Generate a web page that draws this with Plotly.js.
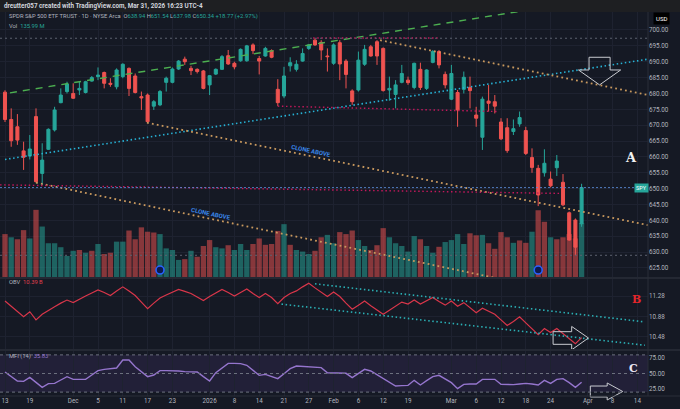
<!DOCTYPE html>
<html><head><meta charset="utf-8">
<script src="https://cdn.plot.ly/plotly-3.0.1.min.js"></script>
<style>html,body{margin:0;padding:0;background:#151924;}#chart{width:680px;height:409px;}</style>
</head><body><div id="chart"></div>
<script>
// ---------- data ----------
const dates = ['2025-11-13','11-14','11-17','11-18','11-19','11-20','11-21','11-24','11-25','11-26','11-28',
 '12-01','12-02','12-03','12-04','12-05','12-08','12-09','12-10','12-11','12-12','12-15','12-16','12-17','12-18','12-19','12-22','12-23','12-24','12-26','12-29','12-30','12-31',
 '2026-01-02','01-05','01-06','01-07','01-08','01-09','01-12','01-13','01-14','01-15','01-16','01-20','01-21','01-22','01-23','01-26','01-27','01-28','01-29','01-30',
 '02-02','02-03','02-04','02-05','02-06','02-09','02-10','02-11','02-12','02-13','02-17','02-18','02-19','02-20','02-23','02-24','02-25','02-26','02-27',
 '03-02','03-03','03-04','03-05','03-06','03-09','03-10','03-11','03-12','03-13','03-16','03-17','03-18','03-19','03-20','03-23','03-24','03-25','03-26','03-27','03-30','03-31'];
const openP = [680.4,671.8,669.5,661.9,660.3,672.7,654.8,662.4,668.5,677.1, 680.6,680.0,681.1,680.3,683.9,685.3,686.6,683.2,682.1,685.3, 687.9,685.5,679.0,679.5,676.0,676.4,683.5,683.5,687.7,690.8, 687.9,687.6,687.1,682.7,686.1,687.6,691.9,689.5,690.3,690.3, 695.3,691.0,691.8,693.5,681.3,679.2,688.7,687.6,690.2,694.2, 696.8,696.1,691.8,689.5,696.0,690.2,680.8,681.1,689.2,694.7, 696.3,694.2,681.1,679.7,683.5,684.2,681.9,687.6,681.6,689.8, 693.2,686.0,678.2,680.3,681.3,681.9,673.2,666.2,677.6,677.4, 671.0,669.2,668.0,670.4,668.3,659.8,656.4,655.0,653.0,656.6, 652.0,642.4,640.1,638.94];
const highP = [681.0,675.3,673.5,664.8,666.9,675.3,664.3,669.0,675.8,681.6, 683.7,683.2,683.7,684.0,685.5,688.2,686.9,684.8,687.9,689.5, 688.2,686.3,680.6,680.0,677.9,681.1,685.3,688.2,690.5,691.6, 688.7,687.9,687.4,685.8,687.9,692.1,693.7,690.0,694.2,695.3, 695.8,691.8,694.7,693.9,684.5,688.4,691.4,690.5,694.2,695.6, 697.4,696.8,694.2,695.8,696.8,690.8,681.3,693.2,695.3,695.3, 696.8,694.5,685.3,684.2,689.0,685.3,689.7,689.7,687.6,693.7, 693.7,686.9,689.0,681.1,686.9,685.3,675.8,679.0,682.7,679.5, 672.2,672.2,671.8,674.3,669.5,662.7,657.5,662.4,655.4,660.6, 654.6,642.8,640.6,651.54];
const lowP = [671.0,663.2,663.8,655.9,659.2,651.9,651.2,662.2,668.0,676.9, 680.0,678.3,679.5,680.0,683.7,684.2,681.6,682.1,681.3,684.8, 679.2,680.0,674.8,670.8,674.8,676.0,680.6,683.2,687.4,689.0, 685.8,686.3,681.3,679.5,685.8,687.4,689.0,687.6,690.0,690.0, 692.4,686.0,691.6,691.1,676.0,678.5,686.9,686.9,690.0,693.7, 695.0,690.5,686.9,689.0,684.2,681.6,676.4,680.6,688.7,691.6, 689.0,680.6,677.7,675.3,683.2,682.7,681.3,681.1,681.1,689.5, 687.9,681.6,677.9,669.5,680.0,675.3,669.5,662.2,674.3,673.7, 665.3,661.3,666.9,669.5,660.6,655.0,644.5,653.8,650.4,654.0, 644.5,633.6,629.0,637.98];
const closeP = [671.8,665.1,665.3,659.9,662.5,652.2,659.0,668.7,674.8,679.5, 683.0,678.5,681.6,683.7,685.0,685.8,683.2,682.9,687.4,689.2, 681.6,680.3,678.6,671.1,677.4,680.6,684.8,687.7,690.2,690.0, 687.2,686.9,681.6,685.6,687.6,691.6,689.3,688.4,693.9,695.0, 693.5,690.2,694.2,691.4,677.1,685.5,689.7,689.2,692.6,695.3, 695.3,693.7,691.6,695.3,689.3,686.0,677.4,690.5,693.9,691.8, 691.8,680.9,681.6,682.7,686.3,683.4,689.5,681.9,687.4,693.2, 689.0,682.7,686.3,674.8,685.1,680.9,672.2,678.2,676.9,676.0, 665.7,662.0,668.9,672.4,661.1,656.7,648.0,658.0,650.9,658.7, 644.9,633.8,631.57,650.34];
const volumeM = [108,100,95,118,97,169,127,85,85,75, 53,66,68,61,66,83,58,61,89,89, 117,95,125,114,112,108,72,68,43,45, 66,51,78,93,75,72,80,68,83,68, 83,97,81,83,116,133,81,68,64,58, 66,100,106,85,113,108,117,93,78,68, 80,123,100,85,78,64,103,95,78,61, 76,88,93,108,83,110,105,106,85,71, 113,100,86,92,86,114,168,139,100,95, 100,108,97,136];
const volumeUp = [0,1,0,0,1,0,1,1,1,1, 1,1,0,1,0,1,0,0,1,1, 0,0,0,0,0,1,1,1,1,0, 1,0,0,0,1,1,0,1,1,1, 0,0,0,0,0,1,0,1,1,1, 0,0,1,1,0,0,0,1,1,0, 0,0,1,1,1,1,1,0,1,1, 0,1,1,1,1,0,0,1,0,0, 0,0,1,0,0,1,0,0,1,0, 0,0,0,1];
const obvB = [11.18,11.08,10.98,10.87,10.97,10.81,10.92,11.00,11.07,11.14, 11.20,11.15,11.22,11.28,11.34,11.40,11.35,11.29,11.38,11.46, 11.38,11.29,11.16,11.03,11.14,11.24,11.30,11.36,11.41,11.37, 11.33,11.26,11.19,11.27,11.34,11.41,11.35,11.28,11.35,11.42, 11.33,11.25,11.33,11.25,11.13,11.25,11.33,11.38,11.46,11.53, 11.44,11.36,11.27,11.36,11.27,11.14,11.02,11.10,11.18,11.09, 11.01,10.92,11.00,11.08,11.16,11.12,11.20,11.12,11.19,11.25, 11.17,11.10,11.18,11.08,11.15,11.05,10.95,11.04,10.98,10.92, 10.81,10.70,10.78,10.87,10.75,10.63,10.52,10.64,10.56,10.64, 10.54,10.44,10.34,10.46];
const mfi = [52.4,45.0,37.9,37.3,43.8,35.7,27.7,33.6,34.1,39.5, 44.9,40.6,40.6,40.6,47.6,54.6,56.7,58.3,58.9,71.8, 71.8,61.0,53.0,44.9,47.6,54.6,54.6,54.6,54.0,53.0, 52.4,52.4,44.9,37.9,51.3,59.4,66.4,66.4,65.9,63.2, 55.1,47.0,48.6,44.9,41.7,49.7,57.8,62.1,61.6,61.6, 61.0,59.4,51.3,51.3,50.8,50.3,43.3,50.3,56.7,54.0, 48.1,42.2,35.7,29.8,30.4,30.9,39.0,31.5,38.4,44.9, 47.0,41.1,35.2,25.5,32.5,33.1,33.1,40.6,40.6,40.6, 32.5,32.0,32.0,33.1,34.1,33.1,31.5,39.0,34.1,40.6, 41.7,35.2,27.7,35.83];
const dividendIdx = [25, 86];

const tickIdx  = [0,4,11,15,19,23,27,33,37,41,45,49,53,57,61,65,72,76,80,84,88,94,98,102];
const tickText = ['13','19','Dec','5','11','17','23','2026','8','14','21','27','Feb','6','12','19','Mar','6','12','18','24','Apr','8','14'];
const priceTicks = [625,630,635,640,645,650,655,660,665,670,675,680,685,690,695,700];
const obvTicks = [10.48,10.88,11.28];
const mfiTicks = [25,50,75];

// drawings (trend lines, in bar index / value)
const greenTrendX = [0.8, 86.3],   greenTrendY = [680.2, 706.9];
const cyanTrendX  = [0, 103.7],    cyanTrendY  = [659.2, 690.8];
const orangeAX    = [22.9, 103.7], orangeAY    = [670.8, 638.5];
const orangeBX    = [5, 80],       orangeBY    = [651.9, 621.5];
const orangeCX    = [60.5, 103.7], orangeCY    = [696.8, 679.5];
const pinkLongX   = [-0.8, 89.5],  pinkLongY   = [651.2, 648.5];
const pinkTopX    = [49.7, 70.2],  pinkTopY    = [697.5, 697.5];
const pinkMidX    = [44, 79.5],    pinkMidY    = [676.0, 674.3];
const obvUpperX   = [50, 103.2],   obvUpperY   = [11.52, 10.77];
const obvLowerX   = [44.6, 103.2], obvLowerY   = [11.12, 10.31];
const arrowAX = [94.2,97.6,97.6,99.3,95.9,92.5,94.2], arrowAY = [691.4,691.4,687.4,687.4,682.7,687.4,687.4];
const arrowBX = [88.4,91.4,91.4,94.1,91.4,91.4,88.4], arrowBY = [10.577,10.577,10.68,10.453,10.22,10.328,10.328];
const arrowCX = [0.9110,0.9370,0.9370,0.9610,0.9370,0.9370,0.9110], arrowCY = [0.026,0.026,0.0339,0.0117,-0.0104,-0.0026,-0.0026];

// ---------- build ----------
const idx = closeP.map((_, i) => i);
const UP = '#26a69a', DN = '#ef5350';
const BG = '#151924', GRID = '#1e2230', TXT = '#b2b5be';
const F = 'Roboto, "Noto Sans", sans-serif';
const DOT = '1.5px,2.6px';

const traces = [];
traces.push({type:'bar', x: idx, y: volumeM, xaxis:'x', yaxis:'y',
  marker:{color: volumeUp.map(u => u ? 'rgba(38,166,154,0.52)' : 'rgba(239,83,80,0.52)'), line:{width:0}},
  hoverinfo:'skip', showlegend:false});
function line(x, y, ya, color, dash, w) {
  traces.push({type:'scatter', mode:'lines', x, y, xaxis:'x', yaxis:ya,
    line:{color, dash, width:w}, hoverinfo:'skip', showlegend:false});
}
line(greenTrendX, greenTrendY, 'y2', '#4caf50', '7px,6px', 1.4);
line(cyanTrendX, cyanTrendY, 'y2', '#27b3d6', DOT, 1.6);
line(orangeAX, orangeAY, 'y2', '#c9995e', '1.8px,3.2px', 1.8);
line(orangeBX, orangeBY, 'y2', '#c9995e', '1.8px,3.2px', 1.8);
line(orangeCX, orangeCY, 'y2', '#c9995e', '1.8px,3.2px', 1.8);
line(pinkLongX, pinkLongY, 'y2', '#c2185b', DOT, 1.4);
line(pinkTopX, pinkTopY, 'y2', '#c2185b', DOT, 1.4);
line(pinkMidX, pinkMidY, 'y2', '#c2185b', DOT, 1.4);

traces.push({type:'candlestick', x: idx, open: openP, high: highP, low: lowP, close: closeP,
  xaxis:'x', yaxis:'y2', whiskerwidth:0,
  increasing:{line:{color:UP, width:1}, fillcolor:UP},
  decreasing:{line:{color:DN, width:1}, fillcolor:DN},
  hoverinfo:'skip', showlegend:false});

const yr2 = [622.16, 705.67];
traces.push({type:'scatter', mode:'markers', x: dividendIdx, y: dividendIdx.map(() => yr2[0] + 2.2),
  xaxis:'x', yaxis:'y2', marker:{symbol:'circle', size:8, color:'#0e1a4d', line:{color:'#2962ff', width:1.6}},
  hoverinfo:'skip', showlegend:false});

traces.push({type:'scatter', mode:'lines', x: idx, y: obvB, xaxis:'x', yaxis:'y3',
  line:{color:'#d9364a', width:1.2}, hoverinfo:'skip', showlegend:false});
line(obvUpperX, obvUpperY, 'y3', '#2bb0b5', DOT, 1.6);
line(obvLowerX, obvLowerY, 'y3', '#2bb0b5', DOT, 1.6);

traces.push({type:'scatter', mode:'lines', x: idx, y: mfi, xaxis:'x', yaxis:'y4',
  line:{color:'#9575cd', width:1.4}, hoverinfo:'skip', showlegend:false});

function pathOf(xs, ys){ return 'M ' + xs.map((x,i) => x + ',' + ys[i]).join(' L ') + ' Z'; }
const maxH = Math.max(...highP), minL = Math.min(...lowP);
const lastC = closeP[closeP.length-1];

const shapes = [
  {type:'rect', xref:'paper', yref:'paper', x0:0, x1:1.05, y0:1, y1:1.04, fillcolor:'#1e1f22', line:{width:0}, layer:'above'},
  {type:'line', xref:'paper', yref:'y2', x0:0, x1:1, y0:maxH, y1:maxH, line:{color:'#5d6270', width:1, dash:'2px,3px'}},
  {type:'line', xref:'paper', yref:'y2', x0:0, x1:1, y0:minL, y1:minL, line:{color:'#5d6270', width:1, dash:'2px,3px'}},
  {type:'line', xref:'paper', yref:'y2', x0:0, x1:1, y0:lastC, y1:lastC, line:{color:'rgba(90,140,215,0.85)', width:1, dash:'2px,2px'}},
  {type:'path', xref:'x', yref:'y2', path: pathOf(arrowAX, arrowAY), line:{color:'#c9cbd1', width:1}},
  {type:'path', xref:'x', yref:'y3', path: pathOf(arrowBX, arrowBY), line:{color:'#c9cbd1', width:1}},
  {type:'path', xref:'paper', yref:'paper', path: pathOf(arrowCX, arrowCY), line:{color:'#c9cbd1', width:1}},
  {type:'rect', xref:'paper', yref:'y4', x0:0, x1:1, y0:20, y1:80, fillcolor:'rgba(126,87,194,0.13)', line:{width:0}, layer:'below'},
  {type:'line', xref:'paper', yref:'y4', x0:0, x1:1, y0:80, y1:80, line:{color:'#6e7280', width:1, dash:'3px,3px'}},
  {type:'line', xref:'paper', yref:'y4', x0:0, x1:1, y0:50, y1:50, line:{color:'#6e7280', width:1, dash:'3px,3px'}},
  {type:'line', xref:'paper', yref:'y4', x0:0, x1:1, y0:20, y1:20, line:{color:'#6e7280', width:1, dash:'3px,3px'}},
  {type:'line', xref:'paper', yref:'paper', x0:0, x1:1.05, y0:0.3073, y1:0.3073, line:{color:'#2a2e39', width:1.5}},
  {type:'line', xref:'paper', yref:'paper', x0:0, x1:1.05, y0:0.1198, y1:0.1198, line:{color:'#2a2e39', width:1.5}},
  {type:'line', xref:'paper', yref:'paper', x0:1, x1:1, y0:0, y1:1, line:{color:'#2a2e39', width:1}},
  {type:'line', xref:'paper', yref:'paper', x0:0, x1:1.05, y0:0, y1:0, line:{color:'#2a2e39', width:1}},
];

const PW = 648, PB = 396, PH = 384;
const px = v => v / PW, py = v => (PB - v) / PH;
const tx = (text, x, y, size, color, opts) => Object.assign({text, x, y, xref:'paper', yref:'paper', showarrow:false,
  xanchor:'left', yanchor:'middle', font:{family:F, size, color}}, opts || {});
const sp = (c, t) => '<span style="color:' + c + '">' + t + '</span>';

const annotations = [
  tx('<b>dreutter057 created with TradingView.com, Mar 31, 2026 16:23 UTC-4</b>', px(2), py(6), 6.3, '#d1d4dc'),
  tx('SPDR S&amp;P 500 ETF TRUST · 1D · NYSE Arca  O' + sp(UP,'638.94') + ' H' + sp(UP,'651.54') + ' L' + sp(UP,'637.98') + ' C' + sp(UP,'650.34') + ' ' + sp(UP,'+18.77 (+2.97%)'), px(7), py(16.5), 5.8, TXT),
  tx('Vol  ' + sp(UP,'135.99 M'), px(7), py(25.5), 5.8, TXT),
  tx('OBV  ' + sp('#e0404f','10.39 B'), px(7), py(281.5), 5.8, TXT),
  tx('MFI (14)  ' + sp('#9575cd','35.83'), px(7), py(356.5), 5.8, TXT),
  tx('USD', px(661.5), py(19), 6, '#ffffff', {xanchor:'center', bgcolor:'#000000', borderpad:2}),
  {text:'SPY', x:px(641.5), y:lastC, xref:'paper', yref:'y2', showarrow:false, xanchor:'center', yanchor:'middle',
   font:{family:F, size:5.5, color:'#ffffff'}, bgcolor:UP, borderpad:1},
  {text:'<b>A</b>', x:101, y:659.8, xref:'x', yref:'y2', showarrow:false, font:{family:'DejaVu Serif', size:13, color:'#f2f2f2'}},
  {text:'<b>B</b>', x:101.8, y:11.21, xref:'x', yref:'y3', showarrow:false, font:{family:'DejaVu Serif', size:11, color:'#e3262b'}},
  {text:'<b>C</b>', x:101.3, y:58.1, xref:'x', yref:'y4', showarrow:false, font:{family:'DejaVu Serif', size:11, color:'#ece8f5'}},
  {text:'<b>CLONE ABOVE</b>', x:49.4, y:661.9, xref:'x', yref:'y2', showarrow:false, textangle:11.7, font:{family:F, size:6, color:'#3a86e8'}},
  {text:'<b>CLONE ABOVE</b>', x:33.3, y:642.3, xref:'x', yref:'y2', showarrow:false, textangle:11.7, font:{family:F, size:6, color:'#3a86e8'}},
];

const axFont = {family:F, size:6.3, color:TXT};
const layout = {
  width:680, height:409, margin:{l:0, r:32, t:12, b:13},
  paper_bgcolor:BG, plot_bgcolor:BG, showlegend:false, bargap:0.14, dragmode:false,
  xaxis:{anchor:'y4', range:[-0.806, 103.71], tickmode:'array', tickvals:tickIdx, ticktext:tickText,
    showgrid:true, gridcolor:GRID, gridwidth:1, zeroline:false, showline:false, ticks:'',
    tickfont:axFont, rangeslider:{visible:false}, fixedrange:true},
  yaxis:{domain:[0.3099,1], range:[0,667], visible:false, showgrid:false, zeroline:false, fixedrange:true},
  yaxis2:{overlaying:'y', side:'right', range:yr2, tickmode:'array', tickvals:priceTicks,
    ticktext:priceTicks.map(v => v.toFixed(2)), showgrid:true, gridcolor:GRID, zeroline:false, ticks:'',
    tickfont:axFont, fixedrange:true},
  yaxis3:{domain:[0.1224,0.3047], side:'right', anchor:'x', range:[10.236,11.615], tickmode:'array', tickvals:obvTicks,
    ticktext:obvTicks.map(v => v.toFixed(2)), showgrid:true, gridcolor:GRID, zeroline:false, ticks:'', tickfont:axFont, fixedrange:true},
  yaxis4:{domain:[0,0.1172], side:'right', anchor:'x', range:[13.7,86.3], tickmode:'array', tickvals:mfiTicks,
    ticktext:mfiTicks.map(v => v.toFixed(2)), showgrid:false, zeroline:false, ticks:'', tickfont:axFont, fixedrange:true},
  shapes, annotations
};

Plotly.newPlot('chart', traces, layout, {displayModeBar:false, staticPlot:true});
</script></body></html>
